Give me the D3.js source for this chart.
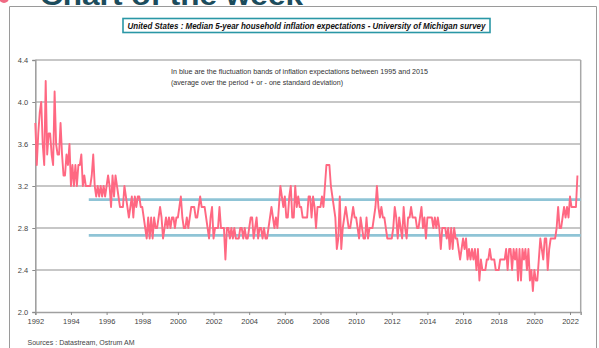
<!DOCTYPE html>
<html>
<head>
<meta charset="utf-8">
<script src="https://cdn.jsdelivr.net/npm/d3@7"></script>
<style>
  html, body { margin: 0; padding: 0; background: #fff; overflow: hidden; }
  svg { display: block; }
</style>
</head>
<body>
<svg id="chart" width="599" height="348"></svg>
<script>
// Median 5-year household inflation expectations (%), monthly, Jan 1992 - Jun 2022
const firstYear = 1992;
const monthlyValues = [
  3.8, 3.4, 3.7, 3.9, 4.0, 3.6, 3.4, 4.2, 3.5, 3.7, 3.7, 3.5, // 1992
  3.4, 4.1, 3.6, 3.5, 3.5, 3.8, 3.5, 3.3, 3.3, 3.5, 3.4, 3.6, // 1993
  3.2, 3.4, 3.2, 3.4, 3.2, 3.4, 3.4, 3.5, 3.2, 3.3, 3.2, 3.2, // 1994
  3.2, 3.2, 3.3, 3.5, 3.2, 3.1, 3.2, 3.1, 3.2, 3.1, 3.2, 3.1, // 1995
  3.2, 3.3, 3.2, 3.0, 3.3, 3.1, 3.3, 3.2, 3.1, 3.0, 3.0, 3.0, // 1996
  3.2, 3.1, 3.0, 2.9, 3.0, 3.1, 2.9, 3.1, 3.0, 3.1, 3.1, 3.0, // 1997
  3.0, 2.9, 2.8, 2.7, 2.9, 2.7, 2.9, 2.7, 2.9, 2.8, 2.8, 2.9, // 1998
  3.0, 2.9, 2.7, 2.8, 2.9, 2.8, 2.9, 2.8, 2.9, 2.9, 2.8, 2.9, // 1999
  2.9, 3.0, 3.1, 2.9, 2.8, 2.8, 2.9, 2.8, 2.9, 3.0, 3.0, 3.0, // 2000
  2.9, 2.9, 3.0, 3.1, 3.0, 3.0, 3.0, 2.9, 2.8, 2.7, 2.9, 3.0, // 2001
  2.7, 2.8, 2.8, 2.8, 3.0, 2.8, 2.8, 2.8, 2.5, 2.8, 2.8, 2.7, // 2002
  2.8, 2.7, 2.8, 2.7, 2.7, 2.7, 2.8, 2.8, 2.7, 2.8, 2.7, 2.7, // 2003
  2.8, 2.9, 2.9, 2.7, 2.8, 2.9, 2.7, 2.8, 2.8, 2.7, 2.8, 2.7, // 2004
  2.7, 2.8, 2.9, 3.0, 2.9, 2.8, 2.9, 2.8, 3.0, 3.2, 3.1, 3.0, // 2005
  3.1, 2.9, 2.9, 3.1, 3.2, 2.9, 2.9, 3.2, 3.0, 3.1, 3.0, 3.0, // 2006
  2.9, 2.9, 2.9, 2.9, 3.1, 3.1, 2.9, 3.1, 3.0, 2.8, 3.0, 3.0, // 2007
  3.0, 3.1, 3.0, 3.2, 3.4, 3.4, 3.4, 3.2, 3.1, 3.0, 2.9, 2.6, // 2008
  2.7, 3.1, 2.6, 2.8, 2.9, 3.0, 2.9, 2.8, 2.8, 2.9, 3.0, 2.9, // 2009
  2.9, 2.8, 2.7, 2.9, 2.8, 2.7, 2.7, 2.9, 2.7, 2.8, 2.8, 2.8, // 2010
  2.9, 3.0, 3.2, 3.0, 2.9, 3.0, 2.9, 2.9, 2.8, 2.7, 2.7, 2.7, // 2011
  2.7, 2.8, 3.0, 2.9, 2.7, 2.9, 2.8, 2.7, 3.0, 2.8, 2.7, 2.9, // 2012
  2.9, 3.0, 2.9, 2.9, 2.9, 2.8, 2.8, 2.9, 3.0, 2.8, 2.9, 2.7, // 2013
  2.9, 2.9, 2.9, 2.9, 2.8, 2.9, 2.8, 2.9, 2.8, 2.6, 2.8, 2.8, // 2014
  2.8, 2.7, 2.8, 2.6, 2.8, 2.6, 2.8, 2.7, 2.7, 2.6, 2.5, 2.6, // 2015
  2.7, 2.6, 2.7, 2.5, 2.6, 2.5, 2.6, 2.5, 2.6, 2.4, 2.6, 2.3, // 2016
  2.5, 2.4, 2.4, 2.4, 2.5, 2.5, 2.6, 2.5, 2.5, 2.5, 2.4, 2.4, // 2017
  2.4, 2.5, 2.5, 2.5, 2.5, 2.6, 2.4, 2.6, 2.6, 2.4, 2.6, 2.5, // 2018
  2.6, 2.3, 2.6, 2.3, 2.6, 2.5, 2.6, 2.4, 2.6, 2.3, 2.4, 2.2, // 2019
  2.4, 2.3, 2.3, 2.5, 2.7, 2.6, 2.5, 2.7, 2.7, 2.4, 2.6, 2.7, // 2020
  2.7, 2.7, 2.7, 2.8, 3.0, 2.8, 2.8, 2.9, 3.0, 2.9, 3.0, 2.9, // 2021
  3.1, 3.0, 3.0, 3.0, 3.0, 3.3                                // 2022
];

// Fluctuation band: 1995-2015 average +/- one standard deviation
const bandStart = 1995;
const bandLevels = [3.07, 2.73];

const yTicks = [2.0, 2.4, 2.8, 3.2, 3.6, 4.0, 4.4];
const xTicks = [1992, 1994, 1996, 1998, 2000, 2002, 2004, 2006, 2008, 2010,
                2012, 2014, 2016, 2018, 2020, 2022];

const headerText = "Chart of the week";
const titleText = "United States : Median 5-year household inflation expectations - University of Michigan survey";
const noteLines = [
  "In blue are the fluctuation bands of inflation expectations  between 1995 and 2015",
  "(average over the period + or - one standard deviation)"
];
const sourceText = "Sources : Datastream, Ostrum AM";

const svg = d3.select("#chart");
const font = "'Liberation Sans', Arial, sans-serif";

const x = d3.scaleLinear().domain([1992, 2022.6]).range([35.3, 580.7]);
const y = d3.scaleLinear().domain([2.0, 4.4]).range([312, 60]);

// Page header and outer frame
svg.append("circle").attr("cx", 4).attr("cy", -2).attr("r", 5).attr("fill", "#f06a84");
svg.append("text")
  .attr("x", 40).attr("y", 4.5)
  .attr("font-family", font).attr("font-weight", "bold").attr("font-size", 27)
  .attr("fill", "#1c4c5c")
  .attr("textLength", 263).attr("lengthAdjust", "spacingAndGlyphs")
  .text(headerText);

svg.append("path")
  .attr("d", "M9.5,360 V6.5 H596.5 V360")
  .attr("fill", "none").attr("stroke", "#9a9a9a").attr("stroke-width", 1);

// Title box
svg.append("rect")
  .attr("x", 123).attr("y", 18.5).attr("width", 367).attr("height", 14)
  .attr("fill", "#fff").attr("stroke", "#2a97a6").attr("stroke-width", 1.6);
svg.append("text")
  .attr("x", 306.5).attr("y", 28.6).attr("text-anchor", "middle")
  .attr("font-family", "'Liberation Sans Narrow', 'Arial Narrow', " + font)
  .attr("font-weight", "bold").attr("font-style", "italic").attr("font-size", 8.2)
  .attr("fill", "#111")
  .attr("textLength", 358).attr("lengthAdjust", "spacingAndGlyphs")
  .text(titleText);

// Grid lines
svg.append("g")
  .selectAll("line")
  .data(yTicks.filter(d => d > 2.0))
  .join("line")
  .attr("x1", x.range()[0]).attr("x2", x.range()[1])
  .attr("y1", d => y(d)).attr("y2", d => y(d))
  .attr("stroke", "#8f8f8f").attr("stroke-width", 1);

// Right border of plot area
svg.append("line")
  .attr("x1", x.range()[1]).attr("x2", x.range()[1])
  .attr("y1", y(4.4)).attr("y2", y(2.0))
  .attr("stroke", "#a8a8a8").attr("stroke-width", 1.5);

// Axes
const yAxis = svg.append("g")
  .attr("transform", `translate(${x.range()[0]},0)`)
  .call(d3.axisLeft(y).tickValues(yTicks).tickFormat(d3.format(".1f")).tickSize(3).tickPadding(4));
const xAxis = svg.append("g")
  .attr("transform", `translate(0,${y(2.0)})`)
  .call(d3.axisBottom(x).tickValues(xTicks).tickFormat(d3.format("d")).tickSize(3).tickPadding(4));

[yAxis, xAxis].forEach(g => {
  g.select(".domain").attr("stroke", "#a0a0a0").attr("stroke-width", 1.6);
  g.selectAll(".tick line").attr("stroke", "#8a8a8a");
  g.selectAll(".tick text")
    .attr("font-family", font).attr("font-size", 7.5).attr("fill", "#444");
});

// Fluctuation band lines
svg.append("g")
  .selectAll("line")
  .data(bandLevels)
  .join("line")
  .attr("x1", x(bandStart)).attr("x2", x.range()[1])
  .attr("y1", d => y(d)).attr("y2", d => y(d))
  .attr("stroke", "#8fc4d6").attr("stroke-width", 2.6);

// Expectations series
const series = monthlyValues.map((v, i) => ({ t: firstYear + i / 12, v }));
svg.append("path")
  .datum(series)
  .attr("fill", "none")
  .attr("stroke", "#ff6882")
  .attr("stroke-width", 1.9)
  .attr("stroke-linejoin", "round")
  .attr("d", d3.line().x(d => x(d.t)).y(d => y(d.v)));

// Note and source
svg.append("g")
  .selectAll("text")
  .data(noteLines)
  .join("text")
  .attr("x", 171).attr("y", (d, i) => 74 + i * 10.5)
  .attr("font-family", font).attr("font-size", 6.8).attr("fill", "#333")
  .attr("textLength", (d, i) => i === 0 ? 257 : 172)
  .attr("lengthAdjust", "spacingAndGlyphs")
  .text(d => d);

svg.append("text")
  .attr("x", 27.5).attr("y", 345)
  .attr("font-family", font).attr("font-size", 7).attr("fill", "#444")
  .attr("textLength", 107).attr("lengthAdjust", "spacingAndGlyphs")
  .text(sourceText);
</script>
</body>
</html>
